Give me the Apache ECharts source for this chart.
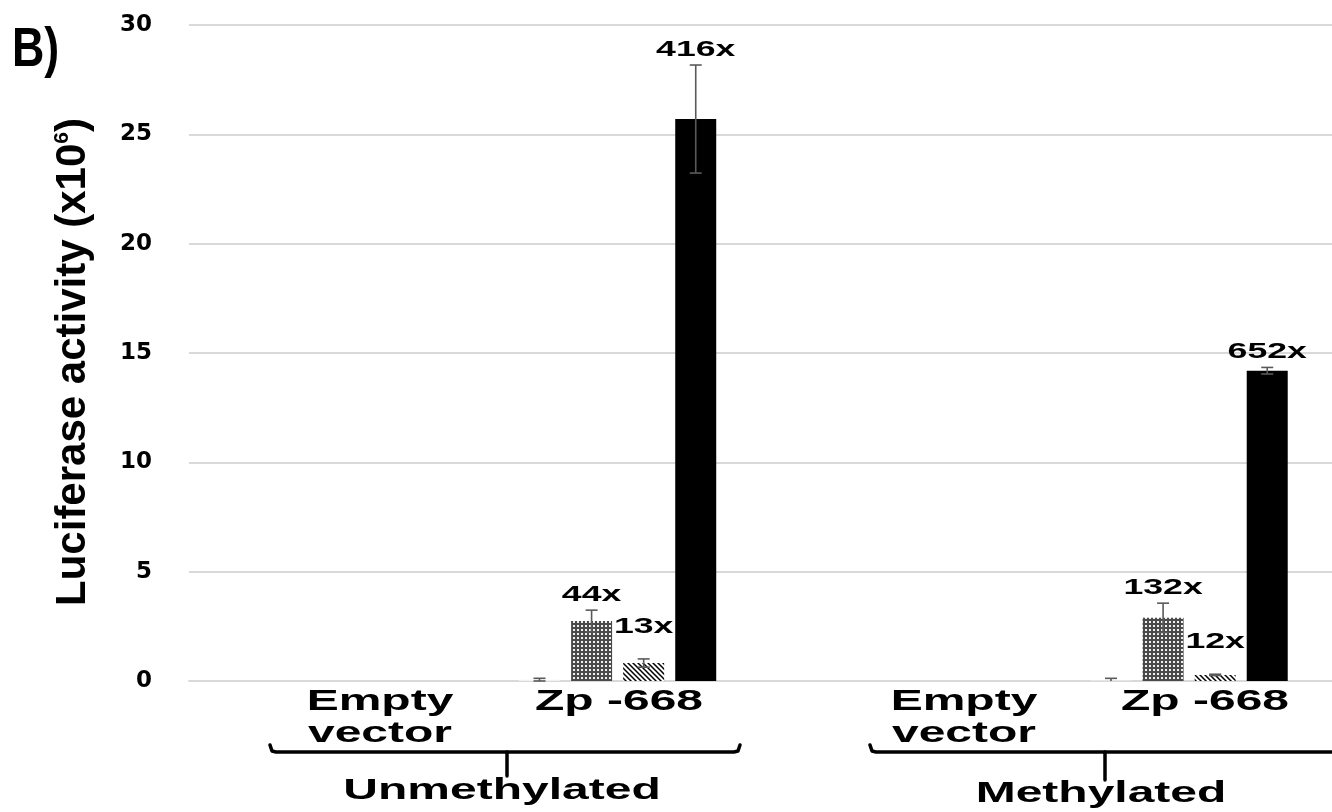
<!DOCTYPE html>
<html>
<head>
<meta charset="utf-8">
<script src="https://cdn.jsdelivr.net/npm/echarts@6/dist/echarts.min.js"></script>
<style>
  html, body { margin: 0; padding: 0; background: #ffffff; }
  #chart { width: 1332px; height: 812px; }
</style>
</head>
<body>
<div id="chart"></div>
<script>
// ---- data ----------------------------------------------------------------
const constructs = ['Empty vector', 'Zp -668'];
const groups = ['Unmethylated', 'Methylated'];
const yTicks = [0, 5, 10, 15, 20, 25, 30];
const seriesNames = ['Control', 'Treatment A', 'Treatment B', 'Treatment C'];

// Luciferase activity (x10^6): Unmeth/Empty, Unmeth/Zp, Meth/Empty, Meth/Zp
const controlValues = [0.002, 0.062, 0.002, 0.022];
const controlErrors = [0, 0.061, 0, 0.10];
const treatAValues = [0.003, 2.74, 0.003, 2.89];
const treatAErrors = [0, 0.50, 0, 0.67];
const treatBValues = [0.002, 0.82, 0.002, 0.28];
const treatBErrors = [0, 0.19, 0, 0.03];
const treatCValues = [0.004, 25.70, 0.003, 14.19];
const treatCErrors = [0, 2.47, 0, 0.15];

// fold induction over the control
const controlFold = ['', '', '', ''];
const treatAFold = ['', '44x', '', '132x'];
const treatBFold = ['', '13x', '', '12x'];
const treatCFold = ['', '416x', '', '652x'];

// ---- styling -------------------------------------------------------------
const FONT = '"Liberation Sans", Arial, sans-serif';
const BAR_W = 41;
const BAR_GAP = 0.27;
const BAR_STEP = BAR_W * (1 + BAR_GAP);
const CAP = 6;
const ERR_COLOR = '#5a5a5a';
const WIDE = 1.6;      // horizontal stretch of the annotation lettering
const LABEL_WIDE = 1.62;

function makeDotted() {
  const c = document.createElement('canvas');
  c.width = 4; c.height = 4;
  const g = c.getContext('2d');
  g.fillStyle = '#4a4a4a';
  g.fillRect(0, 0, 4, 4);
  g.fillStyle = '#f0f0f0';
  g.fillRect(1, 1, 2, 2);
  return { image: c, repeat: 'repeat' };
}
function makeHatched() {
  const s = 5;
  const c = document.createElement('canvas');
  c.width = s; c.height = s;
  const g = c.getContext('2d');
  g.fillStyle = '#ffffff';
  g.fillRect(0, 0, s, s);
  g.strokeStyle = '#000000';
  g.lineWidth = 1.5;
  g.beginPath();
  g.moveTo(-1, -1); g.lineTo(s + 1, s + 1);
  g.moveTo(s - 1, -1); g.lineTo(s + 1, 1);
  g.moveTo(-1, s - 1); g.lineTo(1, s + 1);
  g.stroke();
  return { image: c, repeat: 'repeat' };
}

const axisCategories = [];
groups.forEach(gname => constructs.forEach(cname => axisCategories.push(gname + ' / ' + cname)));

const seriesDefs = [
  { values: controlValues, errors: controlErrors, folds: controlFold, color: '#f2f2f2', lift: 0 },
  { values: treatAValues, errors: treatAErrors, folds: treatAFold, color: makeDotted(), lift: 0 },
  { values: treatBValues, errors: treatBErrors, folds: treatBFold, color: makeHatched(), lift: 17 },
  { values: treatCValues, errors: treatCErrors, folds: treatCFold, color: '#000000', lift: 0 }
];

const series = [];
seriesDefs.forEach((d, idx) => {
  series.push({
    name: seriesNames[idx],
    type: 'bar',
    data: d.values,
    barWidth: BAR_W,
    barGap: (BAR_GAP * 100) + '%',
    itemStyle: { color: d.color },
    z: 2
  });
});
seriesDefs.forEach((d, idx) => {
  series.push({
    name: seriesNames[idx] + ' SD',
    type: 'custom',
    coordinateSystem: 'cartesian2d',
    z: 5,
    encode: { x: 0, y: 1 },
    data: d.values.map((v, i) => [i, v, d.errors[i]]),
    renderItem: function (params, api) {
      const cat = api.value(0), v = api.value(1), e = api.value(2);
      const x = api.coord([cat, v])[0] + (idx - 1.5) * BAR_STEP;
      const yTop = api.coord([cat, v + e])[1];
      const children = [];
      if (e > 0) {
        const yBot = api.coord([cat, Math.max(v - e, 0)])[1];
        const st = { stroke: ERR_COLOR, lineWidth: 1.6 };
        children.push({ type: 'line', shape: { x1: x, y1: yTop, x2: x, y2: yBot }, style: st });
        children.push({ type: 'line', shape: { x1: x - CAP, y1: yTop, x2: x + CAP, y2: yTop }, style: st });
        if (v - e > 0) {
          children.push({ type: 'line', shape: { x1: x - CAP, y1: yBot, x2: x + CAP, y2: yBot }, style: st });
        }
      }
      const label = d.folds[params.dataIndex];
      if (label) {
        children.push({
          type: 'text', x: x, y: yTop - 4 - d.lift, scaleX: LABEL_WIDE,
          style: { text: label, font: 'bold 22px ' + FONT, fill: '#000', align: 'center', verticalAlign: 'bottom' }
        });
      }
      return { type: 'group', children: children };
    }
  });
});

// ---- annotation lettering and brackets ------------------------------------
function wideText(text, x, y, size, extra) {
  return Object.assign({
    type: 'text', x: x, y: y, scaleX: WIDE, z: 10,
    style: { text: text, font: 'bold ' + size + 'px ' + FONT, fill: '#000', align: 'center', verticalAlign: 'middle', lineHeight: 32 }
  }, extra || {});
}
const bracketStyle = { stroke: '#000', lineWidth: 3.5, fill: null, lineCap: 'round', lineJoin: 'round' };

const graphic = [
  { type: 'text', x: 12, y: 51, scaleX: 0.8, z: 10,
    style: { text: 'B)', font: 'bold 56px ' + FONT, fill: '#000', align: 'left', verticalAlign: 'middle' } },
  wideText(constructs[0].replace(' ', '\n'), 380, 718, 30),
  wideText(constructs[1], 619, 702, 30),
  wideText(constructs[0].replace(' ', '\n'), 964, 718, 30),
  wideText(constructs[1], 1205, 702, 30),
  wideText(groups[0], 502, 791, 30),
  wideText(groups[1], 1101, 794, 30),
  { type: 'polyline', z: 10, shape: { points: [[270, 745], [272, 751], [276, 752], [734, 752], [738, 751], [740, 745]] }, style: bracketStyle },
  { type: 'line', z: 10, shape: { x1: 507, y1: 752, x2: 507, y2: 776 }, style: bracketStyle },
  { type: 'polyline', z: 10, shape: { points: [[870, 745], [872, 751], [876, 752], [1340, 752]] }, style: bracketStyle },
  { type: 'line', z: 10, shape: { x1: 1105, y1: 752, x2: 1105, y2: 780 }, style: bracketStyle }
];

const chart = echarts.init(document.getElementById('chart'), null, { renderer: 'canvas' });
chart.setOption({
  animation: false,
  backgroundColor: '#ffffff',
  grid: { left: 189, top: 25, width: 1148, height: 656, containLabel: false },
  xAxis: {
    type: 'category',
    data: axisCategories,
    axisLine: { show: true, lineStyle: { color: '#d9d9d9', width: 2 } },
    axisTick: { show: false },
    axisLabel: { show: false },
    splitLine: { show: false }
  },
  yAxis: {
    type: 'value',
    min: yTicks[0],
    max: yTicks[yTicks.length - 1],
    interval: yTicks[1] - yTicks[0],
    axisLine: { show: false },
    axisTick: { show: false },
    splitLine: { lineStyle: { color: '#d9d9d9', width: 2 } },
    axisLabel: { margin: 37, color: '#000', fontFamily: '"DejaVu Sans", sans-serif', fontWeight: 'bold', fontSize: 23 },
    name: '{t|Luciferase activity (x10}{s|6}{t|)}',
    nameLocation: 'middle',
    nameGap: 95,
    nameTextStyle: {
      color: '#000',
      padding: [0, 18, 0, 0],
      rich: {
        t: { fontFamily: FONT, fontWeight: 'bold', fontSize: 42, color: '#000' },
        s: { fontFamily: FONT, fontWeight: 'bold', fontSize: 21, color: '#000', verticalAlign: 'top' }
      }
    }
  },
  graphic: graphic,
  series: series
});
</script>
</body>
</html>
